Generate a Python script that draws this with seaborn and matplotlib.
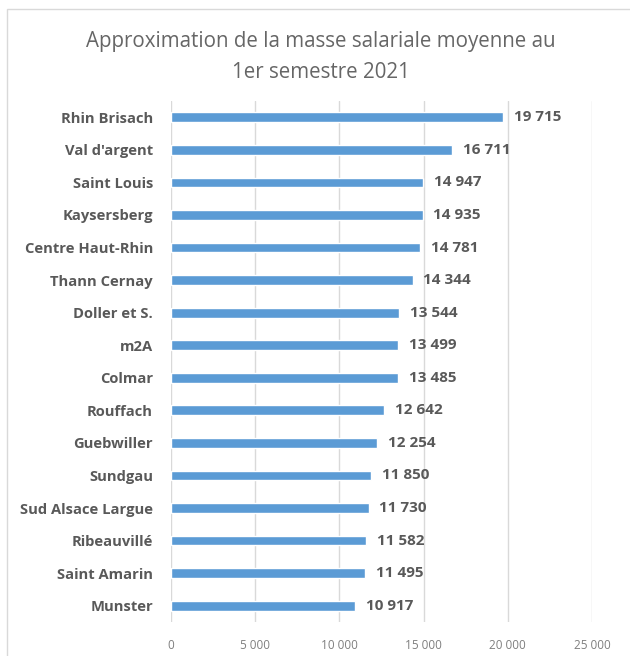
import numpy as np
import pandas as pd
import matplotlib.pyplot as plt
from matplotlib.patches import Rectangle
import seaborn as sns

communes = ["Rhin Brisach", "Val d'argent", "Saint Louis", "Kaysersberg",
            "Centre Haut-Rhin", "Thann Cernay", "Doller et S.", "m2A", "Colmar",
            "Rouffach", "Guebwiller", "Sundgau", "Sud Alsace Largue",
            "Ribeauvillé", "Saint Amarin", "Munster"]
masse = [19715, 16711, 14947, 14935, 14781, 14344, 13544, 13499, 13485,
         12642, 12254, 11850, 11730, 11582, 11495, 10917]
x_ticks = [0, 5000, 10000, 15000, 20000, 25000]

def fmt(v):
    return f"{v:,}".replace(",", " ")

df = pd.DataFrame({"commune": communes, "masse": masse})

sns.set_style("white")
plt.rcParams["font.family"] = ["Open Sans", "DejaVu Sans"]

fig = plt.figure(figsize=(6.3, 6.56), dpi=100)
ax = fig.add_axes([171 / 630, 1 - 622 / 656, 421 / 630, 521 / 656])

sns.barplot(data=df, x="masse", y="commune", color="#5B9BD5", saturation=1,
            width=0.3, ax=ax, zorder=3)

for i, v in enumerate(masse):
    ax.text(v + 650, i, fmt(v), va="center", ha="left", fontsize=11,
            fontweight="bold", color="#595959")

ax.set_xlim(0, 25000)
ax.set_ylim(15.5, -0.5)
ax.set_xticks(x_ticks)
ax.set_xticklabels([fmt(t) for t in x_ticks], color="#7F7F7F", fontsize=8.5)
ax.tick_params(axis="x", length=0, pad=12)
ax.tick_params(axis="y", length=0, pad=13)
for lbl in ax.get_yticklabels():
    lbl.set_fontweight("bold")
    lbl.set_color("#595959")
    lbl.set_fontsize(10.6)
ax.set_xlabel("")
ax.set_ylabel("")
ax.grid(axis="x", color="#D9D9D9", linewidth=1, zorder=0)
for s in ax.spines.values():
    s.set_visible(False)

fig.text(321 / 630, 1 - 41 / 656, "Approximation de la masse salariale moyenne au",
         ha="center", va="center", fontsize=14.8, color="#666666")
fig.text(321 / 630, 1 - 72 / 656, "1er semestre 2021",
         ha="center", va="center", fontsize=14.8, color="#666666")

fig.patches.append(Rectangle((7 / 630, -0.1), 1.2, 1 - 9 / 656 + 0.1,
                             transform=fig.transFigure, fill=False,
                             edgecolor="#D9D9D9", linewidth=1))

fig.savefig("out.png", dpi=100)
